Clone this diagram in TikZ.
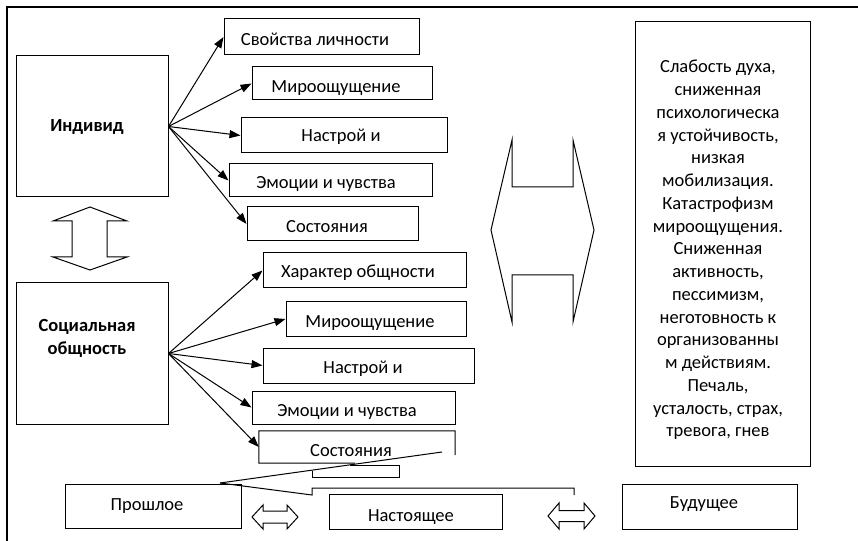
\documentclass[tikz,border=0pt]{standalone}
\usepackage{fontspec}
\setmainfont{Carlito}
\usetikzlibrary{arrows.meta}
\begin{document}
\begin{tikzpicture}[x=1bp,y=-1bp,
  box/.style={draw, line width=1bp, inner sep=0pt},
  nobox/.style={inner sep=0pt},
  txt/.style={font=\fontsize{18.5bp}{22.75bp}\selectfont, inner sep=0pt, anchor=base},
  arr/.style={line width=1bp, -{Triangle[length=11bp,width=8bp]}},
  bshape/.style={draw, line width=1bp, line join=miter},
  frame/.style={line width=1.1bp}]
\useasboundingbox (0,0) rectangle (858,541);
% outer frame
\draw[frame] (7,541) -- (7,7) -- (858,7);
% left boxes
\node[box, minimum width=151bp, minimum height=141bp] (ind) at (92.5,126.5) {};
\node[box, minimum width=151bp, minimum height=141bp] (soc) at (92.5,353.5) {};
\node[txt, font=\fontsize{18.5bp}{22.75bp}\selectfont\bfseries] (tind) at (87,132) {Индивид};
\node[txt, font=\fontsize{18.5bp}{22.75bp}\selectfont\bfseries] (tsoc1) at (87,332) {Социальная};
\node[txt, font=\fontsize{18.5bp}{22.75bp}\selectfont\bfseries] (tsoc2) at (87,354) {общность};
% individual branch boxes
\node[box, minimum width=195bp, minimum height=36bp] (a1) at (321.5,37) {};
\node[box, minimum width=180bp, minimum height=33bp] (a2) at (342,83.5) {};
\node[box, minimum width=206bp, minimum height=35bp] (a3) at (344,135.5) {};
\node[box, minimum width=203bp, minimum height=33bp] (a4) at (330.5,180.5) {};
\node[box, minimum width=171bp, minimum height=34bp] (a5) at (332.5,224) {};
\node[txt] (ta1) at (315,46) {Свойства личности};
\node[txt] (ta2) at (336,93) {Мироощущение};
\node[txt] (ta3) at (341,142) {Настрой и};
\node[txt] (ta4) at (326,189) {Эмоции и чувства};
\node[txt] (ta5) at (327,233) {Состояния};
% social branch boxes
\node[box, minimum width=203bp, minimum height=35bp] (b1) at (364.5,270.5) {};
\node[box, minimum width=180bp, minimum height=34bp] (b2) at (376,319) {};
\node[box, minimum width=211bp, minimum height=35bp] (b3) at (368.5,365.5) {};
\node[box, minimum width=203bp, minimum height=33bp] (b4) at (353.5,407.5) {};
\node[nobox, minimum width=196bp, minimum height=32bp] (b5) at (357,447) {};
\draw[line width=1bp] (355,463) -- (b5.south west) -- (b5.north west) -- (b5.north east) -- (455,455);
\node[txt] (tb1) at (358,278) {Характер общности};
\node[txt] (tb2) at (370,328) {Мироощущение};
\node[txt] (tb3) at (363,373) {Настрой и};
\node[txt] (tb4) at (347,416) {Эмоции и чувства};
\node[txt] (tb5) at (351,456) {Состояния};
% arrows
\draw[arr] (ind.east) -- (a1.west);
\draw[arr] (ind.east) -- (a2.west);
\draw[arr] (ind.east) -- (a3.west);
\draw[arr] (ind.east) -- (a4.west);
\draw[arr] (ind.east) -- (a5.west);
\draw[arr] (soc.east) -- (b1.west);
\draw[arr] (soc.east) -- (b2.west);
\draw[arr] (soc.east) -- (b3.west);
\draw[arr] (soc.east) -- (b4.west);
\draw[arr] (soc.east) -- (b5.west);
% vertical double arrow
\draw[bshape] (90,207) -- (127,221) -- (107,221) -- (107,257) -- (127,257) -- (90,270)
  -- (53,257) -- (72,257) -- (72,221) -- (53,221) -- cycle;
% big double arrow (middle)
\draw[bshape] (512,140) -- (512,187) -- (573,187) -- (573,140) -- (594,230) -- (573,322)
  -- (573,275) -- (512,275) -- (512,322) -- (491,230) -- cycle;
% right text box
\node[box, minimum width=175bp, minimum height=444bp] (rt) at (722.5,244) {};
\node[txt, anchor=center, align=center] (trt) at (718,250) {Слабость духа,\\сниженная\\психологическа\\я устойчивость,\\низкая\\мобилизация.\\Катастрофизм\\мироощущения.\\Сниженная\\активность,\\пессимизм,\\неготовность к\\организованны\\м действиям.\\Печаль,\\усталость, страх,\\тревога, гнев};
% time boxes
\node[box, minimum width=175bp, minimum height=44bp] (past) at (153.5,506) {};
\node[box, minimum width=173bp, minimum height=35bp] (pres) at (415.5,511.5) {};
\node[box, minimum width=175bp, minimum height=45bp] (fut) at (709.5,506.5) {};
\node[txt] (tpast) at (147,510) {Прошлое};
\node[txt] (tpres) at (411,521) {Настоящее};
\node[txt] (tfut) at (704,508) {Будущее};
% distorted left arrow
\draw[line width=1bp] (442,452) -- (220,483);
\draw[line width=1bp] (350,465.5) -- (399,465.5) -- (399,477) -- (312,477) -- (312,470.5);
\draw[line width=1bp] (220,483) -- (312,495) -- (312,488) -- (574,488) -- (574,495);
% small double arrows
\draw[bshape] (252,517) -- (263,505) -- (263,511) -- (287,511) -- (287,505) -- (298,517)
  -- (287,529) -- (287,523) -- (263,523) -- (263,529) -- cycle;
\draw[bshape] (548,516) -- (559,503) -- (559,510.5) -- (584,510.5) -- (584,503) -- (595,516)
  -- (584,529) -- (584,521.5) -- (559,521.5) -- (559,529) -- cycle;
\end{tikzpicture}
\end{document}
